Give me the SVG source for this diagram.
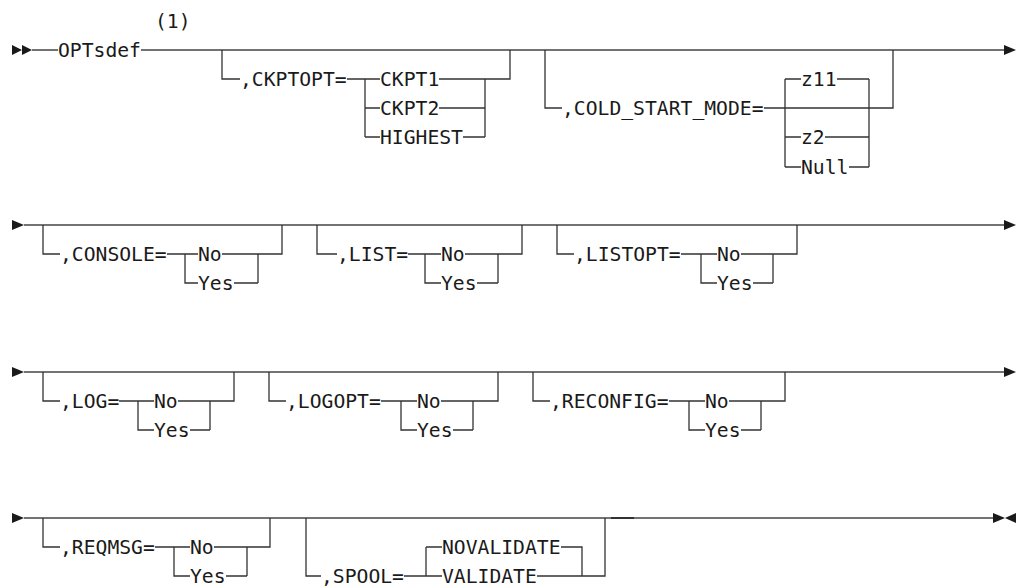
<svg xmlns="http://www.w3.org/2000/svg" width="1016" height="588" viewBox="0 0 1016 588">
<style>
  .ln { fill: none; stroke: #333; stroke-width: 1.3; }
  .main { fill: none; stroke: #444; stroke-width: 1.5; }
  .ah { fill: #1a1a1a; }
  text { font-family: "DejaVu Sans Mono", "Liberation Mono", monospace; font-size: 19.7px; fill: #1a1a1a; }
</style>
<rect width="1016" height="588" fill="#fff"/>

<g id="connectors">
  <!-- row 1 -->
  <polygon class="ah" points="12,45 22,50 12,55"/>
  <polygon class="ah" points="22,45 32,50 22,55"/>
  <path class="main" d="M32,50 H58 M141,50 H1004"/>
  <polygon class="ah" points="1004,45 1016,50 1004,55"/>
  <!-- row 2 -->
  <polygon class="ah" points="12,220 24,225 12,230"/>
  <path class="main" d="M24,225 H1004"/>
  <polygon class="ah" points="1004,220 1016,225 1004,230"/>
  <!-- row 3 -->
  <polygon class="ah" points="12,367 24,372 12,377"/>
  <path class="main" d="M24,372 H1004"/>
  <polygon class="ah" points="1004,367 1016,372 1004,377"/>
  <!-- row 4 -->
  <polygon class="ah" points="12,513 24,518 12,523"/>
  <path class="main" d="M24,518 H993"/>
  <path d="M611,518 H634" fill="none" stroke="#222" stroke-width="1.6"/>
  <polygon class="ah" points="993,513 1005,518 993,523"/>
  <polygon class="ah" points="1016,513 1005,518 1016,523"/>
</g>

<g id="node-optsdef">
  <text x="58" y="57">OPTsdef</text>
  <text x="155" y="28">(1)</text>
</g>

<g id="node-ckptopt">
  <path class="ln" d="M222,50 V79 H240 M347,79 H380 M365,79 V137 M365,108 H380 M365,137 H380 M439,79 H485 M439,108 H485 M463,137 H485 M485,79 V137 M485,79 H510 V50"/>
  <text x="240" y="86">,CKPTOPT=</text>
  <text x="380" y="86">CKPT1</text>
  <text x="380" y="115">CKPT2</text>
  <text x="380" y="144">HIGHEST</text>
</g>

<g id="node-cold-start-mode">
  <path class="ln" d="M545,50 V108 H562 M764,108 H869 M785,79 V167 M785,79 H801 M785,137 H801 M785,167 H801 M837,79 H869 M825,137 H869 M849,167 H869 M869,79 V167 M869,108 H893 V50"/>
  <text x="562" y="115">,COLD_START_MODE=</text>
  <text x="801" y="86">z11</text>
  <text x="801" y="144">z2</text>
  <text x="801" y="174">Null</text>
</g>

<g id="node-console">
  <path class="ln" d="M43,225 V254 H60 M167,254 H198 M185,254 V283 H198 M222,254 H258 M234,283 H258 M258,254 V283 M258,254 H282 V225"/>
  <text x="60" y="261">,CONSOLE=</text>
  <text x="198" y="261">No</text>
  <text x="198" y="290">Yes</text>
</g>

<g id="node-list">
  <path class="ln" d="M317,225 V254 H337 M408,254 H441 M425,254 V283 H441 M465,254 H498 M477,283 H498 M498,254 V283 M498,254 H522 V225"/>
  <text x="337" y="261">,LIST=</text>
  <text x="441" y="261">No</text>
  <text x="441" y="290">Yes</text>
</g>

<g id="node-listopt">
  <path class="ln" d="M557,225 V254 H574 M681,254 H717 M701,254 V283 H717 M741,254 H773 M753,283 H773 M773,254 V283 M773,254 H797 V225"/>
  <text x="574" y="261">,LISTOPT=</text>
  <text x="717" y="261">No</text>
  <text x="717" y="290">Yes</text>
</g>

<g id="node-log">
  <path class="ln" d="M43,372 V401 H60 M119,401 H154 M138,401 V430 H154 M178,401 H210 M190,430 H210 M210,401 V430 M210,401 H234 V372"/>
  <text x="60" y="408">,LOG=</text>
  <text x="154" y="408">No</text>
  <text x="154" y="437">Yes</text>
</g>

<g id="node-logopt">
  <path class="ln" d="M269,372 V401 H286 M381,401 H417 M401,401 V430 H417 M441,401 H473 M453,430 H473 M473,401 V430 M473,401 H498 V372"/>
  <text x="286" y="408">,LOGOPT=</text>
  <text x="417" y="408">No</text>
  <text x="417" y="437">Yes</text>
</g>

<g id="node-reconfig">
  <path class="ln" d="M533,372 V401 H550 M669,401 H705 M689,401 V430 H705 M729,401 H761 M741,430 H761 M761,401 V430 M761,401 H785 V372"/>
  <text x="550" y="408">,RECONFIG=</text>
  <text x="705" y="408">No</text>
  <text x="705" y="437">Yes</text>
</g>

<g id="node-reqmsg">
  <path class="ln" d="M43,518 V547 H60 M155,547 H190 M174,547 V576 H190 M214,547 H247 M226,576 H247 M247,547 V576 M247,547 H270 V518"/>
  <text x="60" y="554">,REQMSG=</text>
  <text x="190" y="554">No</text>
  <text x="190" y="583">Yes</text>
</g>

<g id="node-spool">
  <path class="ln" d="M306,518 V576 H321 M404,576 H442 M426,547 V576 M426,547 H442 M561,547 H582 V576 M537,576 H605 V518"/>
  <text x="321" y="583">,SPOOL=</text>
  <text x="442" y="554">NOVALIDATE</text>
  <text x="442" y="583">VALIDATE</text>
</g>
</svg>
